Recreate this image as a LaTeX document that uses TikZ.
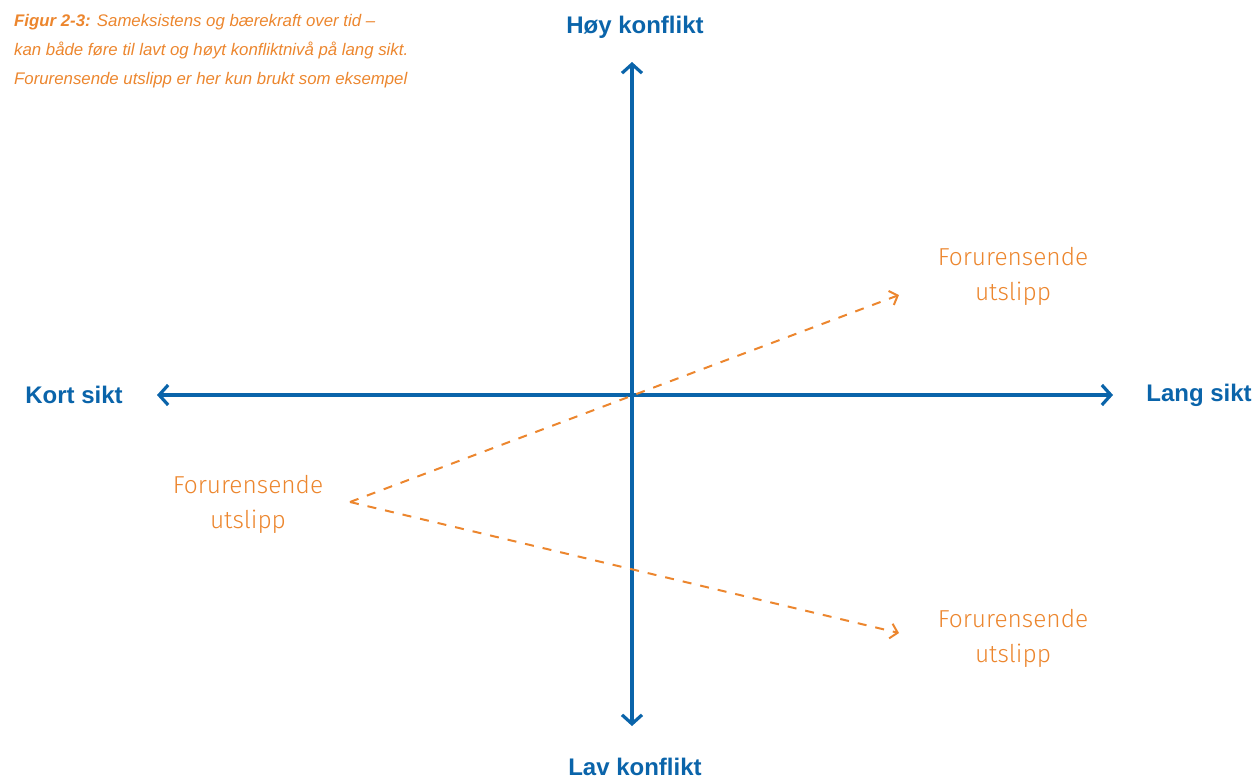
\documentclass[tikz,border=0pt]{standalone}
\usepackage{fontspec}
\setmainfont{Liberation Sans}
\newfontfamily\lightfont{Fira Sans Light}
\usetikzlibrary{arrows.meta}
\definecolor{axisblue}{RGB}{10,100,170}
\definecolor{orng}{RGB}{236,134,46}
\tikzset{
  axis/.style={draw=axisblue, line width=3.2pt, {Straight Barb[length=9pt,width=20pt]}-{Straight Barb[length=9pt,width=20pt]}},
  flow/.style={draw=orng, line width=2pt, dash pattern=on 9pt off 9pt, -{Straight Barb[length=7pt,width=15pt]}},
  axlabel/.style={text=axisblue, font=\bfseries\fontsize{24}{28}\selectfont, inner sep=0pt},
  olabel/.style={text=orng, font=\lightfont\fontsize{24.5}{35}\selectfont, align=center, inner sep=0pt},
}
\begin{document}
\begin{tikzpicture}[x=1pt,y=-1pt]
\useasboundingbox (0,0) rectangle (1255,779);
% caption
\node[anchor=north west, inner sep=0pt, text=orng, align=left, font=\itshape\fontsize{16.8}{29}\selectfont] (cap) at (14,14.5)
  {{\bfseries Figur 2-3:} Sameksistens og bærekraft over tid --\\kan både føre til lavt og høyt konfliktnivå på lang sikt.\\Forurensende utslipp er her kun brukt som eksempel};
% axes
\coordinate (top) at (632,62);
\coordinate (bot) at (632,726);
\coordinate (lft) at (157,395);
\coordinate (rgt) at (1113,395);
\draw[axis] (bot) -- (top);
\draw[axis] (lft) -- (rgt);
\node[axlabel] (hoy) at (635,27) {Høy konflikt};
\node[axlabel] (lav) at (635,767) {Lav konflikt};
\node[axlabel] (kort) at (74,395) {Kort sikt};
\node[axlabel] (lang) at (1199,395) {Lang sikt};
% labels
\node[olabel] (src) at (248,504) {Forurensende\\utslipp};
\node[olabel] (hi) at (1013,276) {Forurensende\\utslipp};
\node[olabel] (lo) at (1013,638) {Forurensende\\utslipp};
\coordinate (s) at (350,502);
\coordinate (ehi) at (899,295);
\coordinate (elo) at (899,633);
\draw[flow] (s) -- (ehi);
\draw[flow] (s) -- (elo);
\end{tikzpicture}
\end{document}
